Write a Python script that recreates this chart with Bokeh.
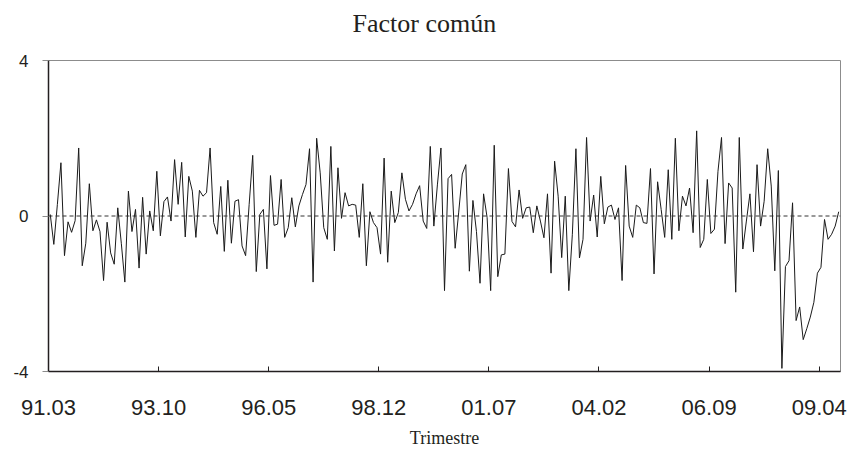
from bokeh.plotting import figure
from bokeh.models import FixedTicker, Span, Range1d, Title
from bokeh.embed import file_html
from bokeh.resources import INLINE

# Monthly common factor, 91.03 onwards
factor = [
    0.04, -0.73, 0.30, 1.37, -1.02, -0.15, -0.42, -0.12, 1.75, -1.28,
    -0.70, 0.83, -0.38, -0.10, -0.40, -1.66, -0.16, -0.95, -1.24, 0.21,
    -0.70, -1.70, 0.64, -0.40, 0.17, -1.34, 0.48, -0.98, 0.13, -0.38,
    1.15, -0.51, 0.37, 0.49, -0.13, 1.45, 0.30, 1.38, -0.54, 1.02,
    0.64, -0.55, 0.66, 0.51, 0.60, 1.75, -0.17, -0.47, 0.76, -0.91,
    0.92, -0.70, 0.38, 0.42, -0.77, -1.02, 0.30, 1.56, -1.43, 0.04,
    0.17, -1.36, 1.04, -0.24, -0.21, 0.94, -0.55, -0.30, 0.47, -0.28,
    0.26, 0.55, 0.81, 1.73, -1.70, 2.00, 1.11, -0.30, -0.60, 1.79,
    -0.90, 1.24, -0.06, 0.60, 0.26, 0.30, 0.28, -0.55, 0.83, -1.28,
    0.11, -0.17, -0.30, -0.98, 1.49, -1.19, 0.64, -0.17, 0.09, 1.11,
    0.43, 0.13, 0.30, 0.57, 0.78, -0.13, -0.32, 1.79, -0.26, 0.80,
    1.75, -1.92, 0.96, 1.07, -0.83, 0.10, 1.08, 1.32, -1.42, 0.40,
    -0.40, -1.73, 0.57, -0.04, -1.92, 1.82, -1.56, -1.00, -0.98, 1.22,
    -0.14, -0.28, 0.67, -0.06, 0.21, 0.23, -0.43, 0.26, -0.13, -0.56,
    0.57, -1.47, 1.41, 0.51, -1.07, 0.51, -1.92, -0.47, 1.73, -1.08,
    -0.60, 2.02, -0.13, 0.54, -0.54, 1.02, -0.20, 0.23, 0.28, -0.09,
    0.21, -1.66, 1.30, -0.26, -0.55, 0.28, 0.21, -0.17, -0.19, 1.22,
    -1.49, 0.88, 0.17, -0.55, 1.19, -0.60, 2.00, -0.38, 0.51, 0.26,
    0.72, -0.43, 2.19, -0.81, -0.60, 0.94, -0.45, -0.34, 1.15, 2.02,
    -0.71, 0.85, 0.72, -1.96, 2.02, -0.85, -0.13, 0.57, -0.92, 1.32,
    -0.26, 0.38, 1.73, 0.77, -1.41, 1.17, -3.92, -1.30, -1.15, 0.34,
    -2.69, -2.34, -3.18, -2.90, -2.60, -2.22, -1.47, -1.32, -0.09, -0.60,
    -0.47, -0.26, 0.11,
]
tick_labels = ["91.03", "93.10", "96.05", "98.12", "01.07", "04.02", "06.09", "09.04"]
tick_step = 31
y_ticks = [-4, 0, 4]
y_tick_labels = ["-4", "0", "4"]
title_text = "Factor común"
xlabel_text = "Trimestre"

x = list(range(len(factor)))
n = len(factor)

p = figure(width=848, height=450, output_backend="svg", toolbar_location=None,
           x_range=Range1d(-0.5, n - 0.5), y_range=Range1d(-4, 4),
           min_border_left=48, min_border_right=8, min_border_top=60, min_border_bottom=77)

# real title (outermost panel)
p.title.text = title_text
p.title.align = "left"
p.title.offset = 304
p.title.text_font = "Liberation Serif"
p.title.text_font_size = "26px"
p.title.text_font_style = "normal"
p.title.text_color = "#231f20"

# blank spacer between title and frame
p.add_layout(Title(text=" ", text_font_size="6px"), "above")

p.add_layout(Span(location=0, dimension="width", line_color="#333333",
                  line_dash="4 3", line_width=1))
p.line(x, factor, line_color="#1a1a1a", line_width=1)

p.grid.visible = False
p.outline_line_color = "#8c8c8c"
p.outline_line_width = 1

xt = [i * tick_step - 0.5 for i in range(len(tick_labels))]
p.xaxis.ticker = FixedTicker(ticks=xt)
p.xaxis.major_label_overrides = {t: lab for t, lab in zip(xt, tick_labels)}
p.xaxis.minor_tick_line_color = None
p.xaxis.major_tick_in = 5
p.xaxis.major_tick_out = 0
p.xaxis.major_tick_line_color = "#231f20"
p.xaxis.axis_line_color = "#231f20"
p.xaxis.axis_line_width = 1.5
p.xaxis.major_label_text_font = "Liberation Sans"
p.xaxis.major_label_text_font_size = "22px"
p.xaxis.major_label_text_color = "#231f20"
p.xaxis.major_label_standoff = 28
p.xaxis.axis_label = xlabel_text
p.xaxis.axis_label_text_font = "Liberation Serif"
p.xaxis.axis_label_text_font_size = "18px"
p.xaxis.axis_label_text_font_style = "normal"
p.xaxis.axis_label_text_color = "#231f20"
p.xaxis.axis_label_standoff = 10

p.yaxis.ticker = FixedTicker(ticks=y_ticks)
p.yaxis.major_label_overrides = {t: lab for t, lab in zip(y_ticks, y_tick_labels)}
p.yaxis.minor_tick_line_color = None
p.yaxis.major_tick_in = 0
p.yaxis.major_tick_out = 6
p.yaxis.major_tick_line_color = "#8c8c8c"
p.yaxis.axis_line_color = "#231f20"
p.yaxis.axis_line_width = 1.5
p.yaxis.major_label_text_font = "Liberation Sans"
p.yaxis.major_label_text_font_size = "17px"
p.yaxis.major_label_text_color = "#231f20"
p.yaxis.major_label_standoff = 14

open("out.html", "w").write(file_html(p, INLINE))
